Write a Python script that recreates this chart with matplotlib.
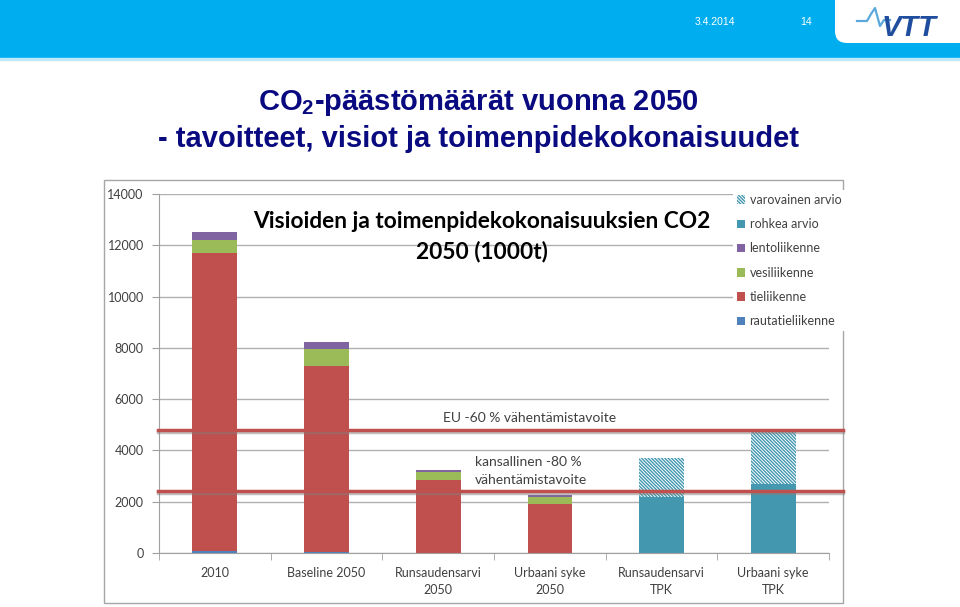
import numpy as np
import matplotlib
matplotlib.use("Agg")
import matplotlib.pyplot as plt
import matplotlib.patheffects as pe
from matplotlib.patches import Rectangle, FancyBboxPatch, Patch
from matplotlib.transforms import IdentityTransform

# Chart data (1000 t CO2)
categories = ["2010", "Baseline 2050", "Runsaudensarvi\n2050", "Urbaani syke\n2050",
              "Runsaudensarvi\nTPK", "Urbaani syke\nTPK"]
rautatieliikenne = [60, 50, 0, 0, 0, 0]
tieliikenne = [11630, 7240, 2840, 1910, 0, 0]
vesiliikenne = [520, 650, 300, 270, 0, 0]
lentoliikenne = [300, 270, 90, 70, 0, 0]
rohkea_arvio = [0, 0, 0, 0, 2180, 2690]
varovainen_arvio = [0, 0, 0, 0, 1510, 2020]

targets = [4800, 2420]
target_labels = ["EU -60 % vähentämistavoite", "kansallinen -80 %\nvähentämistavoite"]

yticks = list(range(0, 14001, 2000))

# Colours (Excel 2007 palette)
c_rauta = "#4F81BD"
c_tie = "#C0504D"
c_vesi = "#9BBB59"
c_lento = "#8064A2"
c_rohkea = "#4398B0"
c_text = "#404040"
chart_font = ["Lato", "DejaVu Sans"]

plt.rcParams["mathtext.fontset"] = "custom"
plt.rcParams["mathtext.rm"] = "Liberation Sans:bold"
plt.rcParams["hatch.linewidth"] = 1.0

fig = plt.figure(figsize=(9.6, 6.07), dpi=100)
px = IdentityTransform()

# --- slide header ---
fig.patches.append(Rectangle((0, 607 - 58), 960, 58, transform=px, color="#00AEEF", zorder=-5))
fig.patches.append(Rectangle((0, 607 - 60), 960, 2, transform=px, color="#BDE9FA", zorder=-5))
fig.patches.append(FancyBboxPatch((835, 607 - 43), 160, 80, transform=px,
                                  boxstyle="round,pad=0,rounding_size=12",
                                  facecolor="white", edgecolor="none", zorder=-4))
fig.text(715 / 960, 1 - 22 / 607, "3.4.2014", color="white", fontsize=7.5,
         family="Liberation Sans", ha="center", va="center")
fig.text(806 / 960, 1 - 22 / 607, "14", color="white", fontsize=7.5,
         family="Liberation Sans", ha="center", va="center")
# VTT logo
fig.lines.append(plt.Line2D([857, 867, 871, 875, 880, 884, 890],
                            [607 - 21, 607 - 21, 607 - 14, 607 - 8, 607 - 26, 607 - 20, 607 - 20],
                            transform=px, color="#5BA8DC", lw=1.6))
fig.text(909 / 960, 1 - 28 / 607, "VTT", color="#1F4E9E", fontsize=21,
         family="Liberation Sans", weight="bold", style="italic", ha="center", va="center")

# --- slide title ---
title_color = "#0A0A80"
fig.text(478 / 960, 1 - 103 / 607, r"CO$_2$-päästömäärät vuonna 2050", color=title_color,
         fontsize=21, family="Liberation Sans", weight="bold", ha="center", va="center")
fig.text(478 / 960, 1 - 139 / 607, "- tavoitteet, visiot ja toimenpidekokonaisuudet",
         color=title_color, fontsize=21, family="Liberation Sans", weight="bold",
         ha="center", va="center")

# --- chart frame ---
fig.patches.append(Rectangle((104, 607 - 603), 739, 423, transform=px, facecolor="white",
                             edgecolor="#A6A6A6", lw=1, zorder=-3))

fig.text(482 / 960, 1 - 222 / 607, "Visioiden ja toimenpidekokonaisuuksien CO2",
         fontsize=16.3, family=chart_font, weight="bold", ha="center", va="center", color="black")
fig.text(482 / 960, 1 - 252 / 607, "2050 (1000t)", fontsize=16.3, family=chart_font,
         weight="bold", ha="center", va="center", color="black")

ax = fig.add_axes([159 / 960, 54 / 607, 670 / 960, 359 / 607])
ax.set_facecolor("none")
x = np.arange(len(categories))
w = 0.4
hatch = "\\" * 10

series = [
    ("rautatieliikenne", rautatieliikenne, c_rauta),
    ("tieliikenne", tieliikenne, c_tie),
    ("vesiliikenne", vesiliikenne, c_vesi),
    ("lentoliikenne", lentoliikenne, c_lento),
    ("rohkea arvio", rohkea_arvio, c_rohkea),
]
bottom = np.zeros(len(categories))
handles = []
for name, vals, col in series:
    vals = np.array(vals, dtype=float)
    ax.bar(x, vals, w, bottom=bottom, color=col, linewidth=0, zorder=2)
    handles.append(Patch(facecolor=col, edgecolor="none", label=name))
    bottom += vals
vals = np.array(varovainen_arvio, dtype=float)
ax.bar(x, vals, w, bottom=bottom, facecolor="white", edgecolor=c_rohkea, hatch=hatch,
       linewidth=0, zorder=2)
handles.append(Patch(facecolor="white", edgecolor=c_rohkea, hatch=hatch, lw=0,
                     label="varovainen arvio"))

ax.set_xlim(-0.5, len(categories) - 0.5)
ax.set_ylim(0, 14000)
ax.set_yticks(yticks)
ax.set_yticklabels([str(v) for v in yticks], fontsize=9, family=chart_font, color=c_text)
ax.yaxis.grid(True, color="#B0B0B0", linewidth=1, zorder=0)
ax.set_axisbelow(True)
ax.set_xticks(x)
ax.set_xticklabels(categories, fontsize=9, family=chart_font, color=c_text, linespacing=1.5)
ax.set_xticks(np.arange(-0.5, len(categories)), minor=True)
ax.tick_params(axis="x", which="major", length=0, pad=10)
ax.tick_params(axis="x", which="minor", length=5, color="#A0A0A0", direction="out")
ax.tick_params(axis="y", length=5, color="#A0A0A0", direction="out", pad=6)
for s in ["top", "right"]:
    ax.spines[s].set_visible(False)
for s in ["left", "bottom"]:
    ax.spines[s].set_color("#A0A0A0")

# target lines
trans = ax.get_yaxis_transform()
shadow = [pe.SimpleLineShadow(offset=(0, -1.5), shadow_color="#808080", alpha=0.5), pe.Normal()]
for t in targets:
    ax.plot([-0.002, 1.0209], [t, t], transform=trans, color=c_tie, lw=2.5, clip_on=False,
            zorder=4, path_effects=shadow)
ax.annotate(target_labels[0], xy=(2.04, targets[0]), xytext=(0, 8.5), textcoords="offset points",
            ha="left", va="center", fontsize=10, family=chart_font, color=c_text)
ax.annotate(target_labels[1], xy=(2.33, targets[1]), xytext=(0, 14.5), textcoords="offset points",
            ha="left", va="center", fontsize=10, family=chart_font, color=c_text, linespacing=1.65)

fig.legend(handles[::-1], [h.get_label() for h in handles[::-1]], loc="upper left",
           bbox_to_anchor=(727 / 960, 1 - 184 / 607), frameon=True, facecolor="white",
           edgecolor="none", framealpha=1, fancybox=False, handlelength=0.65, handleheight=0.65,
           handletextpad=0.35, labelspacing=0.98, borderpad=0.3,
           prop={"family": chart_font, "size": 9}, labelcolor=c_text)

fig.savefig("out.png", dpi=100)
